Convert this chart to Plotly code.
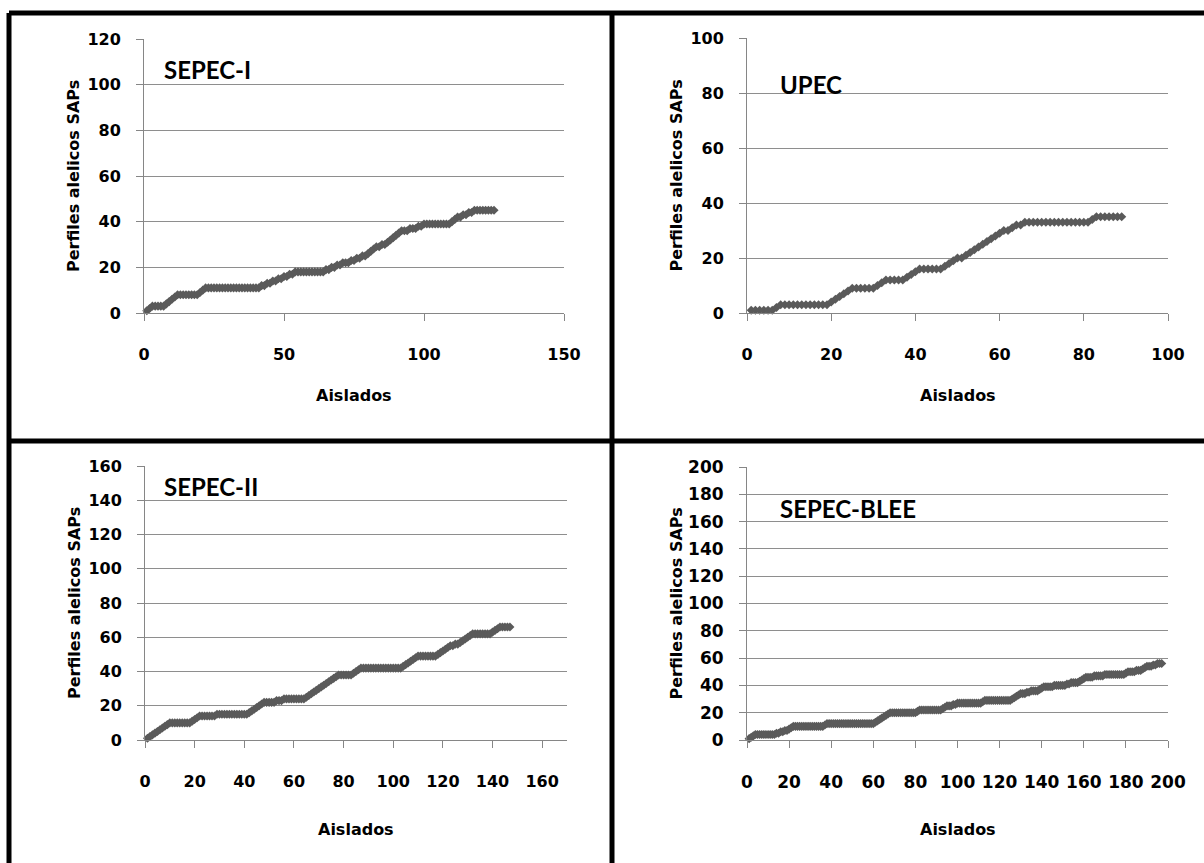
import plotly.graph_objects as go

# Cumulative number of SAP allelic profiles after each isolate, per collection
sepec_i = [
    1, 2, 3, 3, 3, 3, 3, 4, 5, 6,
    7, 8, 8, 8, 8, 8, 8, 8, 8, 9,
    10, 11, 11, 11, 11, 11, 11, 11, 11, 11,
    11, 11, 11, 11, 11, 11, 11, 11, 11, 11,
    11, 12, 12, 13, 13, 14, 14, 15, 15, 16,
    16, 17, 17, 18, 18, 18, 18, 18, 18, 18,
    18, 18, 18, 18, 19, 19, 20, 20, 21, 21,
    22, 22, 22, 23, 23, 24, 24, 25, 25, 26,
    27, 28, 29, 29, 30, 30, 31, 32, 33, 34,
    35, 36, 36, 36, 37, 37, 37, 38, 38, 39,
    39, 39, 39, 39, 39, 39, 39, 39, 39, 40,
    41, 42, 42, 43, 43, 44, 44, 45, 45, 45,
    45, 45, 45, 45, 45,
]

upec = [
    1, 1, 1, 1, 1, 1, 2, 3, 3, 3,
    3, 3, 3, 3, 3, 3, 3, 3, 3, 4,
    5, 6, 7, 8, 9, 9, 9, 9, 9, 9,
    10, 11, 12, 12, 12, 12, 12, 13, 14, 15,
    16, 16, 16, 16, 16, 16, 17, 18, 19, 20,
    20, 21, 22, 23, 24, 25, 26, 27, 28, 29,
    30, 30, 31, 32, 32, 33, 33, 33, 33, 33,
    33, 33, 33, 33, 33, 33, 33, 33, 33, 33,
    33, 34, 35, 35, 35, 35, 35, 35, 35,
]

sepec_ii = [
    1, 2, 3, 4, 5, 6, 7, 8, 9, 10,
    10, 10, 10, 10, 10, 10, 10, 10, 11, 12,
    13, 14, 14, 14, 14, 14, 14, 14, 15, 15,
    15, 15, 15, 15, 15, 15, 15, 15, 15, 15,
    15, 16, 17, 18, 19, 20, 21, 22, 22, 22,
    22, 22, 23, 23, 23, 24, 24, 24, 24, 24,
    24, 24, 24, 24, 25, 26, 27, 28, 29, 30,
    31, 32, 33, 34, 35, 36, 37, 38, 38, 38,
    38, 38, 38, 39, 40, 41, 42, 42, 42, 42,
    42, 42, 42, 42, 42, 42, 42, 42, 42, 42,
    42, 42, 42, 43, 44, 45, 46, 47, 48, 49,
    49, 49, 49, 49, 49, 49, 49, 50, 51, 52,
    53, 54, 55, 55, 56, 56, 57, 58, 59, 60,
    61, 62, 62, 62, 62, 62, 62, 62, 62, 63,
    64, 65, 66, 66, 66, 66, 66,
]

sepec_blee = [
    1, 2, 3, 4, 4, 4, 4, 4, 4, 4,
    4, 4, 4, 5, 5, 6, 6, 7, 7, 8,
    9, 10, 10, 10, 10, 10, 10, 10, 10, 10,
    10, 10, 10, 10, 10, 10, 11, 12, 12, 12,
    12, 12, 12, 12, 12, 12, 12, 12, 12, 12,
    12, 12, 12, 12, 12, 12, 12, 12, 12, 12,
    13, 14, 15, 16, 17, 18, 19, 20, 20, 20,
    20, 20, 20, 20, 20, 20, 20, 20, 20, 20,
    21, 22, 22, 22, 22, 22, 22, 22, 22, 22,
    22, 22, 23, 24, 25, 25, 25, 26, 26, 27,
    27, 27, 27, 27, 27, 27, 27, 27, 27, 27,
    27, 28, 29, 29, 29, 29, 29, 29, 29, 29,
    29, 29, 29, 29, 29, 30, 31, 32, 33, 34,
    34, 34, 35, 35, 36, 36, 36, 36, 37, 38,
    39, 39, 39, 39, 39, 40, 40, 40, 40, 40,
    40, 41, 41, 42, 42, 42, 42, 43, 44, 45,
    46, 46, 46, 46, 47, 47, 47, 47, 47, 48,
    48, 48, 48, 48, 48, 48, 48, 48, 48, 49,
    50, 50, 50, 50, 51, 51, 51, 52, 53, 54,
    54, 54, 55, 55, 56, 56, 56,
]

panel_titles = ["SEPEC-I", "UPEC", "SEPEC-II", "SEPEC-BLEE"]
series = [sepec_i, upec, sepec_ii, sepec_blee]
x_ranges = [[0, 150], [0, 100], [0, 170], [0, 200]]
x_ticks = [[0, 50, 100, 150], list(range(0, 101, 20)),
           list(range(0, 161, 20)), list(range(0, 201, 20))]
y_ranges = [[0, 120], [0, 100], [0, 160], [0, 200]]

W, H = 1204, 863


def fx(px):
    return px / W


def fy(py):
    return 1 - py / H


# plot-area boxes in pixels: left, right, top, bottom
boxes = [(144, 564, 39, 313), (747, 1168, 38, 313),
         (145, 567, 466, 740), (747, 1168, 467, 740)]
# tick-label size and distance of the x title below each plot area
tick_sizes = [16, 16, 16, 17]
xtitle_gap = [82, 82, 89, 89]

fig = go.Figure()

TITLE_FONT = dict(family="DejaVu Sans", size=16, color="black", weight="bold")
AX_GRAY = "#868686"
GRID_GRAY = "#8e8e8e"
MARK = "#5a5a5a"

annotations = []
for i, (vals, (l, r, t, b)) in enumerate(zip(series, boxes)):
    k = "" if i == 0 else str(i + 1)
    tick_font = dict(family="DejaVu Sans", size=tick_sizes[i],
                     color="black", weight="bold")
    fig.add_trace(go.Scatter(
        x=list(range(1, len(vals) + 1)), y=vals,
        mode="lines+markers",
        line=dict(color=MARK, width=2),
        marker=dict(symbol="diamond", size=7, color=MARK),
        xaxis="x" + k, yaxis="y" + k, cliponaxis=False,
        showlegend=False,
    ))
    fig.update_layout(**{
        "xaxis" + k: dict(
            domain=[fx(l), fx(r)], range=x_ranges[i], anchor="y" + k,
            tickvals=x_ticks[i], showgrid=False, zeroline=False,
            showline=True, linecolor=AX_GRAY, linewidth=1,
            ticks="outside", ticklen=7, tickcolor=AX_GRAY,
            tickfont=tick_font, ticklabelstandoff=20, automargin=False,
        ),
        "yaxis" + k: dict(
            domain=[fy(b), fy(t)], range=y_ranges[i], anchor="x" + k,
            dtick=20, showgrid=True, gridcolor=GRID_GRAY, gridwidth=1,
            zeroline=False, showline=True, linecolor=AX_GRAY, linewidth=1,
            ticks="outside", ticklen=7, tickcolor=AX_GRAY,
            tickfont=tick_font, ticklabelstandoff=12, automargin=False,
        ),
    })
    cx = (l + r) / 2
    cy = (t + b) / 2
    # axis titles
    annotations.append(dict(
        x=fx(cx), y=fy(b + xtitle_gap[i]), xref="paper", yref="paper",
        xanchor="center", yanchor="middle",
        text="Aislados", showarrow=False, font=TITLE_FONT,
    ))
    annotations.append(dict(
        x=fx(l - 71), y=fy(cy), xref="paper", yref="paper",
        xanchor="center", yanchor="middle",
        text="Perfiles alelicos SAPs", showarrow=False, textangle=-90,
        font=TITLE_FONT,
    ))

# panel labels (left edge, vertical centre in px)
label_pos = [(162, 70), (778, 85), (162, 486), (778, 508)]
for txt, (px, py) in zip(panel_titles, label_pos):
    annotations.append(dict(
        x=fx(px), y=fy(py), xref="paper", yref="paper",
        xanchor="left", yanchor="middle", text=txt, showarrow=False,
        font=dict(family="Lato", size=24, color="black", weight="bold"),
    ))

# thick black frame dividing the four panels
frame = [
    (9, 13, W, 13), (9, 13, 9, H),
    (612, 13, 612, H), (9, 441, W, 441),
]
shapes = [dict(type="line", xref="paper", yref="paper",
               x0=fx(a), y0=fy(b_), x1=fx(c), y1=fy(d),
               line=dict(color="black", width=5))
          for a, b_, c, d in frame]

fig.update_layout(
    width=W, height=H,
    margin=dict(l=0, r=0, t=0, b=0, autoexpand=False),
    paper_bgcolor="white", plot_bgcolor="white",
    annotations=annotations, shapes=shapes,
)

fig.write_html(
    "out.html",
    post_script="document.body.style.margin='0';"
                "document.body.style.overflow='hidden';",
)
